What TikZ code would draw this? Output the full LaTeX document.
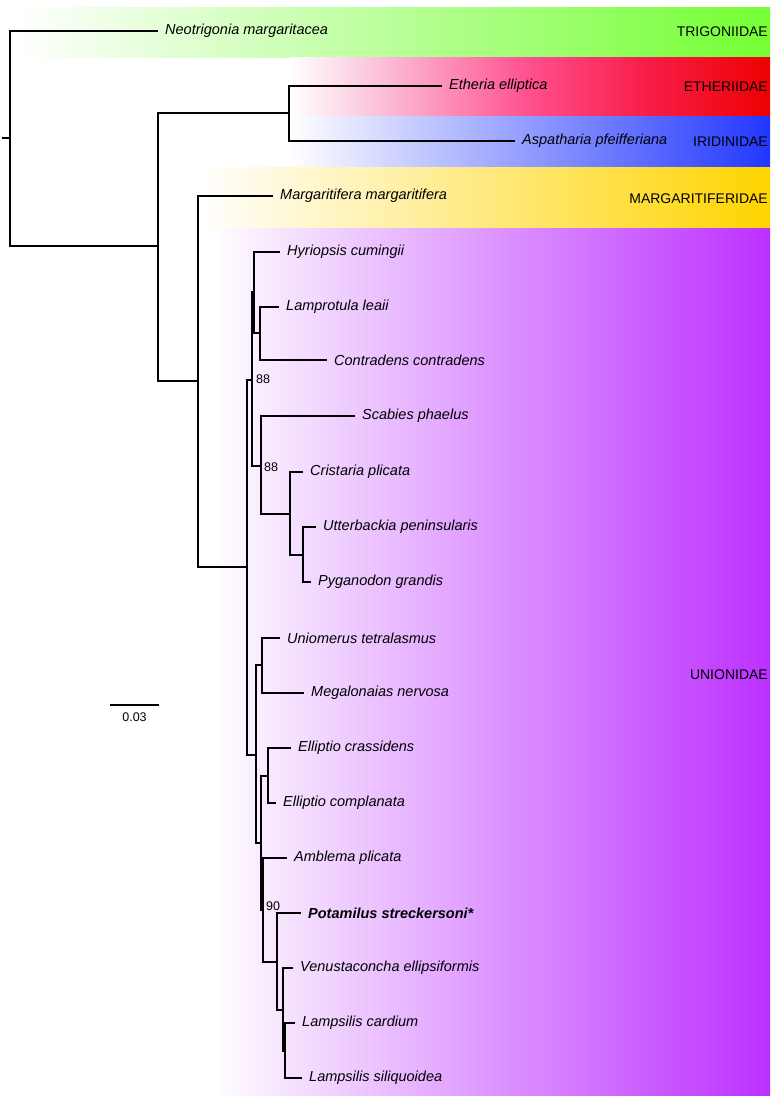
\documentclass[tikz,border=0pt]{standalone}
\usepackage{fontspec}
\setmainfont{Liberation Sans}
\definecolor{trigmid}{HTML}{BDFD9F}
\definecolor{trigend}{HTML}{74FF33}
\definecolor{etha}{HTML}{FBBCD6}
\definecolor{ethmid}{HTML}{FF4F8E}
\definecolor{ethb}{HTML}{F81E4A}
\definecolor{ethend}{HTML}{EE0000}
\definecolor{iridmid}{HTML}{7478FF}
\definecolor{iridend}{HTML}{2237FF}
\definecolor{margmid}{HTML}{FBEF85}
\definecolor{margend}{HTML}{FFD400}
\definecolor{unimid}{HTML}{DA8AF8}
\definecolor{uniend}{HTML}{BC30FF}
\pgfdeclarehorizontalshading{ethshade}{100bp}{color(0bp)=(white); color(25bp)=(white); color(35bp)=(etha); color(50bp)=(ethmid); color(62bp)=(ethb); color(75bp)=(ethend); color(100bp)=(ethend)}
\begin{document}
\begin{tikzpicture}[x=1pt,y=-1pt,
  br/.style={line width=2.7pt, line join=miter},
  leaf/.style={anchor=west, inner xsep=7pt, inner ysep=0pt, font=\fontsize{14.5}{16}\selectfont\itshape},
  fam/.style={anchor=east, inner sep=0pt, font=\fontsize{14}{16}\selectfont},
  boot/.style={anchor=west, inner sep=0pt, font=\fontsize{12.5}{14}\selectfont}]
\useasboundingbox (0,0) rectangle (773,1100);
% clade bands
\shade[left color=white, middle color=trigmid, right color=trigend] (15,7) rectangle (770,57);
\shade[shading=ethshade] (290,57) rectangle (770,116);
\shade[left color=white, middle color=iridmid, right color=iridend] (290,116) rectangle (770,167);
\shade[left color=white, middle color=margmid, right color=margend] (200,167) rectangle (770,228);
\shade[left color=white, middle color=unimid, right color=uniend] (210,228) rectangle (770,1095);
% family labels
\node[fam] (ftrig) at (768,32) {TRIGONIIDAE};
\node[fam] (feth) at (768,87) {ETHERIIDAE};
\node[fam] (firid) at (768,142) {IRIDINIDAE};
\node[fam] (fmarg) at (768,199) {MARGARITIFERIDAE};
\node[fam] (funi) at (768,675) {UNIONIDAE};
% internal nodes
\coordinate (root) at (2,138);
\coordinate (n1) at (10,138);
\coordinate (n2) at (158,246);
\coordinate (n3) at (289,113);
\coordinate (n4) at (198,381);
\coordinate (u) at (247,567);
\coordinate (ua) at (252,380);
\coordinate (ua1) at (254,292);
\coordinate (ua1b) at (260,333);
\coordinate (ua2) at (261,466);
\coordinate (ua2b) at (290,514);
\coordinate (ua2c) at (303,555);
\coordinate (ub) at (256,755);
\coordinate (ub1) at (262,665);
\coordinate (ub2) at (261,843);
\coordinate (ub2a) at (268,776);
\coordinate (ub2b) at (263,910);
\coordinate (ub2c) at (277,962);
\coordinate (ub2d) at (283,1010);
\coordinate (ub2e) at (285,1051);
% leaves
\node[leaf] (neo) at (158,31) {Neotrigonia margaritacea};
\node[leaf] (eth) at (442,86) {Etheria elliptica};
\node[leaf] (asp) at (515,141) {Aspatharia pfeifferiana};
\node[leaf] (mar) at (273,196) {Margaritifera margaritifera};
\node[leaf] (hyr) at (280,252) {Hyriopsis cumingii};
\node[leaf] (lam) at (279,307) {Lamprotula leaii};
\node[leaf] (con) at (327,360) {Contradens contradens};
\node[leaf] (sca) at (355,416) {Scabies phaelus};
\node[leaf] (cri) at (303,472) {Cristaria plicata};
\node[leaf] (utt) at (316,527) {Utterbackia peninsularis};
\node[leaf] (pyg) at (311,582) {Pyganodon grandis};
\node[leaf] (uni) at (280,638) {Uniomerus tetralasmus};
\node[leaf] (meg) at (304,693) {Megalonaias nervosa};
\node[leaf] (ecr) at (291,748) {Elliptio crassidens};
\node[leaf] (eco) at (276,803) {Elliptio complanata};
\node[leaf] (amb) at (287,858) {Amblema plicata};
\node[leaf] (pot) at (301,913) {\bfseries Potamilus streckersoni*};
\node[leaf] (ven) at (293,968) {Venustaconcha ellipsiformis};
\node[leaf] (lca) at (295,1023) {Lampsilis cardium};
\node[leaf] (lsi) at (302,1078) {Lampsilis siliquoidea};
% branches
\draw[br] (root) -- (n1);
\draw[br] (n1) |- (neo.west);
\draw[br] (n1) |- (n2);
\draw[br] (n2) |- (n3);
\draw[br] (n2) |- (n4);
\draw[br] (n3) |- (eth.west);
\draw[br] (n3) |- (asp.west);
\draw[br] (n4) |- (mar.west);
\draw[br] (n4) |- (u);
\draw[br] (u) |- (ua);
\draw[br] (u) |- (ub);
\draw[br] (ua) |- (ua1);
\draw[br] (ua) |- (ua2);
\draw[br] (ua1) |- (hyr.west);
\draw[br] (ua1) |- (ua1b);
\draw[br] (ua1b) |- (lam.west);
\draw[br] (ua1b) |- (con.west);
\draw[br] (ua2) |- (sca.west);
\draw[br] (ua2) |- (ua2b);
\draw[br] (ua2b) |- (cri.west);
\draw[br] (ua2b) |- (ua2c);
\draw[br] (ua2c) |- (utt.west);
\draw[br] (ua2c) |- (pyg.west);
\draw[br] (ub) |- (ub1);
\draw[br] (ub) |- (ub2);
\draw[br] (ub1) |- (uni.west);
\draw[br] (ub1) |- (meg.west);
\draw[br] (ub2) |- (ub2a);
\draw[br] (ub2) |- (ub2b);
\draw[br] (ub2a) |- (ecr.west);
\draw[br] (ub2a) |- (eco.west);
\draw[br] (ub2b) |- (amb.west);
\draw[br] (ub2b) |- (ub2c);
\draw[br] (ub2c) |- (pot.west);
\draw[br] (ub2c) |- (ub2d);
\draw[br] (ub2d) |- (ven.west);
\draw[br] (ub2d) |- (ub2e);
\draw[br] (ub2e) |- (lca.west);
\draw[br] (ub2e) |- (lsi.west);
% support values
\node[boot] (b1) at (256,379) {88};
\node[boot] (b2) at (264,467) {88};
\node[boot] (b3) at (266,906) {90};
% scale bar
\coordinate (sba) at (110,705);
\coordinate (sbb) at (159,705);
\draw[br] (sba) -- (sbb);
\node[boot, anchor=north] (sbl) at (134.5,713) {0.03};
\end{tikzpicture}
\end{document}
